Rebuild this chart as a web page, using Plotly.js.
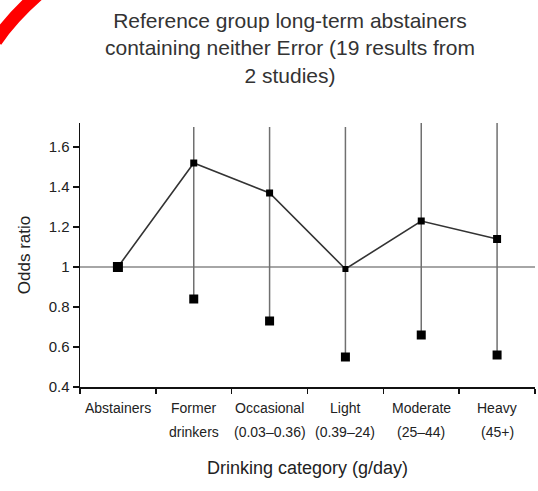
<!DOCTYPE html>
<html>
<head>
<meta charset="utf-8">
<script src="https://cdn.plot.ly/plotly-3.0.1.min.js"></script>
<style>
  html, body { margin: 0; padding: 0; background: #fff; }
  #chart { width: 538px; height: 491px; }
</style>
</head>
<body>
<div id="chart"></div>
<script>
// Drinking categories (two-line labels)
const categoryLine1 = ['Abstainers', 'Former', 'Occasional', 'Light', 'Moderate', 'Heavy'];
const categoryLine2 = ['', 'drinkers', '(0.03\u20130.36)', '(0.39\u201324)', '(25\u201344)', '(45+)'];

// Pooled odds ratio per category
const oddsRatio = [1.0, 1.52, 1.37, 0.99, 1.23, 1.14];
// Confidence interval bounds (upper bounds run past the top of the axis)
const ciUpper = [null, 1.70, 1.70, 1.70, 1.72, 1.72];
const ciLower = [null, 0.84, 0.73, 0.55, 0.66, 0.56];

const referenceOR = 1;
const yTicks = [0.4, 0.6, 0.8, 1, 1.2, 1.4, 1.6];
const yTickText = ['0.4', '0.6', '0.8', '1', '1.2', '1.4', '1.6'];

const chartTitle = 'Reference group long-term abstainers<br>containing neither Error (19 results from<br>2 studies)';
const xTitle = 'Drinking category (g/day)';
const yTitle = 'Odds ratio';

const idx = categoryLine1.map((_, i) => i);
const font = 'Liberation Sans, Arial, Helvetica, sans-serif';
const ink = '#222';

// interval whiskers as one broken line trace
const wx = [], wy = [];
idx.forEach(i => {
  if (ciUpper[i] === null) return;
  wx.push(i, i, null);
  wy.push(ciUpper[i], ciLower[i], null);
});

const lowX = idx.filter(i => ciLower[i] !== null);
const lowY = lowX.map(i => ciLower[i]);

const traces = [
  {
    x: wx, y: wy, mode: 'lines', type: 'scatter',
    line: { color: '#707070', width: 1.5 },
    hoverinfo: 'skip', showlegend: false
  },
  {
    x: idx, y: oddsRatio, mode: 'lines', type: 'scatter',
    line: { color: '#333', width: 1.6 },
    showlegend: false
  },
  {
    x: idx, y: oddsRatio, mode: 'markers', type: 'scatter',
    marker: { symbol: 'square', color: '#000', opacity: 1, size: [10, 7, 7, 6, 7, 8], line: { width: 0 } },
    cliponaxis: false, showlegend: false
  },
  {
    x: lowX, y: lowY, mode: 'markers', type: 'scatter',
    marker: { symbol: 'square', color: '#000', opacity: 1, size: 9, line: { width: 0 } },
    cliponaxis: false, showlegend: false
  }
];

const labelFont = { family: font, size: 14, color: ink };
const annotations = [];
idx.forEach(i => {
  annotations.push({
    x: i, xref: 'x', y: 0, yref: 'paper', yshift: -21,
    text: categoryLine1[i], showarrow: false, font: labelFont, yanchor: 'middle'
  });
  if (categoryLine2[i]) {
    annotations.push({
      x: i, xref: 'x', y: 0, yref: 'paper', yshift: -45,
      text: categoryLine2[i], showarrow: false, font: labelFont, yanchor: 'middle'
    });
  }
});
annotations.push({
  x: 0.5, xref: 'paper', y: 0, yref: 'paper', yshift: -81,
  text: xTitle, showarrow: false, yanchor: 'middle',
  font: { family: font, size: 18, color: ink }
});
annotations.push({
  x: 0.4615, xref: 'paper', y: 1.4394, yref: 'paper', yanchor: 'top',
  text: chartTitle, showarrow: false,
  font: { family: font, size: 21, color: '#333' }
});

const layout = {
  width: 538, height: 491,
  margin: { l: 80, r: 3, t: 123, b: 104 },
  paper_bgcolor: '#fff', plot_bgcolor: '#fff',
  font: { family: font, color: ink },
  xaxis: {
    range: [-0.5, 5.5],
    tickvals: [-0.5, 0.5, 1.5, 2.5, 3.5, 4.5, 5.5],
    ticktext: ['', '', '', '', '', '', ''],
    ticks: 'outside', ticklen: 5, tickwidth: 1.5, tickcolor: '#111',
    showline: true, linecolor: '#111', linewidth: 1.5,
    showgrid: false, zeroline: false, automargin: false
  },
  yaxis: {
    range: [0.4, 1.72],
    tickvals: yTicks, ticktext: yTickText,
    ticks: 'outside', ticklen: 6, tickwidth: 1.5, tickcolor: '#111',
    tickfont: { family: font, size: 15, color: ink },
    showline: true, linecolor: '#111', linewidth: 1.5,
    showgrid: false, zeroline: false,
    title: { text: yTitle, font: { family: font, size: 17, color: ink }, standoff: 13 },
    automargin: false
  },
  shapes: [
    {
      type: 'line', xref: 'paper', yref: 'y', x0: 0, x1: 1, y0: referenceOR, y1: referenceOR,
      line: { color: '#888', width: 1.5 }, layer: 'below'
    },
    {
      type: 'path', xref: 'paper', yref: 'paper',
      path: 'M -0.185 1.31 Q -0.15 1.40 -0.09 1.49',
      line: { color: '#ff0000', width: 13 }
    }
  ],
  annotations: annotations
};

Plotly.newPlot('chart', traces, layout, { displayModeBar: false, staticPlot: true });
</script>
</body>
</html>
